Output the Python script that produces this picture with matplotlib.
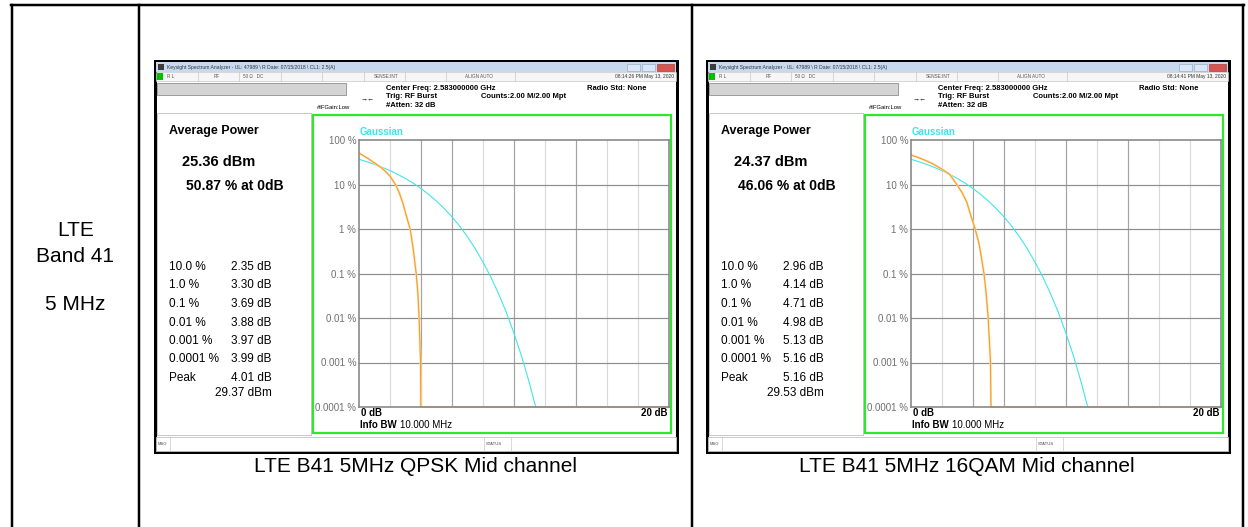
import matplotlib
matplotlib.use("Agg")
import matplotlib.pyplot as plt
from matplotlib.patches import Rectangle

plt.rcParams["font.family"] = ["Liberation Sans", "DejaVu Sans"]

W, H = 1248, 527

# ---- data ----
row_label = ["LTE", "Band 41", "5 MHz"]
captions = ["LTE B41 5MHz QPSK Mid channel", "LTE B41 5MHz 16QAM Mid channel"]
timestamps = ["08:14:26 PM May 13, 2020", "08:14:41 PM May 13, 2020"]
avg_power_dbm = [25.36, 24.37]
pct_at_0db = [50.87, 46.06]
ccdf_levels = ["10.0 %", "1.0 %", "0.1 %", "0.01 %", "0.001 %", "0.0001 %"]
qpsk_stats_db = [2.35, 3.30, 3.69, 3.88, 3.97, 3.99]
qam16_stats_db = [2.96, 4.14, 4.71, 4.98, 5.13, 5.16]
peak_db = [4.01, 5.16]
peak_dbm = [29.37, 29.53]

ytick_pct = [100, 10, 1, 0.1, 0.01, 0.001, 0.0001]
ytick_labels = ["100 %", "10 %", "1 %", "0.1 %", "0.01 %", "0.001 %", "0.0001 %"]

gauss_db = [0, 0.5, 1, 1.5, 2, 2.5, 3, 3.5, 4, 4.5, 5, 5.5, 6, 6.5, 7, 7.5, 8, 8.5, 9, 9.5, 10, 10.5, 11, 11.4]
gauss_pct = [36.8, 32.6, 28.4, 24.3, 20.5, 16.9, 13.6, 10.7, 8.1, 5.97, 4.23, 2.88, 1.87, 1.15, 0.667,
             0.362, 0.18, 0.0843, 0.0355, 0.0135, 0.0045, 0.00134, 0.00034, 0.0001]

qpsk_db = [0, 0.5, 1.0, 1.5, 2.0, 2.35, 2.6, 2.85, 3.05, 3.30, 3.5, 3.69, 3.8, 3.88, 3.97, 3.99]
qpsk_pct = [51, 40, 30.5, 23, 15.5, 10, 6.5, 3.6, 2.0, 1.0, 0.35, 0.1, 0.035, 0.01, 0.001, 0.0001]

qam16_db = [0, 0.5, 1.0, 1.5, 2.0, 2.5, 2.96, 3.3, 3.6, 3.9, 4.14, 4.4, 4.71, 4.85, 4.98, 5.13, 5.16]
qam16_pct = [46, 40, 34, 28, 22, 16.9, 10, 6.5, 4.0, 1.8, 1.0, 0.45, 0.1, 0.035, 0.01, 0.001, 0.0001]

curves = [(qpsk_db, qpsk_pct), (qam16_db, qam16_pct)]
stats = [qpsk_stats_db, qam16_stats_db]

fig = plt.figure(figsize=(W / 100, H / 100), dpi=100)
cv = fig.add_axes([0, 0, 1, 1])
cv.set_xlim(0, W)
cv.set_ylim(H, 0)
cv.axis("off")

PX = 0.72  # points per pixel


def rect(x0, y0, x1, y1, fc="none", ec="none", lw=1.0, z=1):
    cv.add_patch(Rectangle((x0, y0), x1 - x0, y1 - y0, facecolor=fc, edgecolor=ec,
                           linewidth=lw * PX, zorder=z))


def txt(x, y, s, size, **kw):
    kw.setdefault("va", "center")
    cv.text(x, y, s, fontsize=size, zorder=5, **kw)


# table grid
cv.plot([11, 1244], [5, 5], color="black", lw=2.5 * PX)
for x in [12, 139, 692, 1243]:
    cv.plot([x, x], [5, H], color="black", lw=2.5 * PX)

txt(75.5, 231, row_label[0], 15, ha="center")
txt(75.5, 256, row_label[1], 15, ha="center")
txt(75.5, 304, row_label[2], 15, ha="center")


def draw_screen(i):
    ox = 552 * i
    # window frame
    rect(155 + ox, 61, 677 + ox, 452, fc="white", ec="black", lw=3)
    # title bar
    rect(156 + ox, 62, 676 + ox, 72, fc="#c6d9ef")
    rect(158 + ox, 63.5, 164 + ox, 70, fc="#3b3b3b")
    txt(167 + ox, 67, "Keysight Spectrum Analyzer - UL: 47989 \\ R Date: 07/15/2018 \\ CL1: 2.5(A)",
        3.6, color="#333333")
    rect(627 + ox, 63.5, 640 + ox, 70.5, fc="#dbe7f6", ec="#8fa6c4", lw=0.6)
    rect(642 + ox, 63.5, 655 + ox, 70.5, fc="#dbe7f6", ec="#8fa6c4", lw=0.6)
    rect(657 + ox, 63.5, 674 + ox, 70.5, fc="#d9534f", ec="#a33", lw=0.6)
    # status row
    rect(156 + ox, 72, 676 + ox, 81, fc="#f6f6f6", ec="#c0c0c0", lw=0.6)
    rect(157 + ox, 73, 163 + ox, 80, fc="#00c000")
    for sx in [198, 239, 281, 322, 364, 405, 446, 515]:
        cv.plot([sx + ox, sx + ox], [72, 81], color="#c0c0c0", lw=0.6 * PX)
    for sx, s in [(167, "R L"), (214, "RF"), (243, "50 \u03a9   DC"), (374, "SENSE:INT"), (465, "ALIGN AUTO")]:
        txt(sx + ox, 76.5, s, 3.3, color="#555555")
    txt(674 + ox, 76.5, timestamps[i], 3.5, color="#333333", ha="right")
    # grey entry box
    rect(157 + ox, 83, 346 + ox, 95, fc="#d4d4d4", ec="#8a8a8a", lw=0.8)
    # header settings
    txt(386 + ox, 88, "Center Freq: 2.583000000 GHz", 5.5, weight="bold")
    txt(386 + ox, 97, "Trig: RF Burst", 5.5, weight="bold")
    txt(386 + ox, 105.5, "#Atten: 32 dB", 5.5, weight="bold")
    txt(481 + ox, 97, "Counts:2.00 M/2.00 Mpt", 5.5, weight="bold")
    txt(587 + ox, 88, "Radio Std: None", 5.5, weight="bold")
    txt(317 + ox, 107.5, "#IFGain:Low", 4.2)
    txt(368 + ox, 99, "\u2192\u2190", 5, ha="center")
    # left results panel
    rect(157 + ox, 113, 311 + ox, 435, fc="white", ec="#c8c8c8", lw=1)
    txt(169 + ox, 131, "Average Power", 9, weight="bold")
    txt(182 + ox, 162, f"{avg_power_dbm[i]:.2f} dBm", 10.5, weight="bold")
    txt(186 + ox, 186, f"{pct_at_0db[i]:.2f} % at 0dB", 10, weight="bold")
    for k, (lab, v) in enumerate(zip(ccdf_levels, stats[i])):
        y = 267 + 18.5 * k
        txt(169 + ox, y, lab, 8.5)
        txt(231 + ox, y, f"{v:.2f} dB", 8.5)
    txt(169 + ox, 378, "Peak", 8.5)
    txt(231 + ox, 378, f"{peak_db[i]:.2f} dB", 8.5)
    txt(215 + ox, 393, f"{peak_dbm[i]:.2f} dBm", 8.5)
    # green trace window
    rect(313 + ox, 115, 671 + ox, 433, fc="white", ec="#2ee82e", lw=2.2, z=2)
    # bottom status bar
    rect(156 + ox, 437, 676 + ox, 451, fc="white", ec="#c0c0c0", lw=0.8)
    for sx in [170, 484, 511]:
        cv.plot([sx + ox, sx + ox], [437, 451], color="#c0c0c0", lw=0.6 * PX)
    txt(158 + ox, 444, "MSG", 3, color="#444444")
    txt(486 + ox, 444, "STATUS", 3, color="#444444")
    # caption
    txt(415 + ox, 466, captions[i], 15, ha="center")

    # CCDF plot
    ax = fig.add_axes([(359 + ox) / W, (H - 407) / H, 310 / W, 267 / H], zorder=3)
    ax.set_yscale("log")
    ax.set_xlim(0, 20)
    ax.set_ylim(1e-4, 100)
    ax.set_xticks([])
    ax.minorticks_off()
    ax.set_yticks(ytick_pct)
    ax.set_yticklabels(ytick_labels)
    ax.tick_params(axis="y", length=0, pad=2, labelsize=7, labelcolor="#707070")
    for sp in ax.spines.values():
        sp.set_color("#858585")
        sp.set_linewidth(1.6 * PX)
    for k in range(1, 10):
        c = "#a4a4a4" if k in (2, 3, 5, 7) else "#dadada"
        ax.axvline(2 * k, color=c, lw=1.2 * PX, zorder=0)
    for v in ytick_pct[1:-1]:
        ax.axhline(v, color="#8e8e8e", lw=1.2 * PX, zorder=0)
    ax.plot(gauss_db, gauss_pct, color="#40e6ea", lw=0.8, zorder=2)
    dbs, pcts = curves[i]
    ax.plot(dbs, pcts, color="#ffdcaa", lw=1.6, zorder=2)
    ax.plot(dbs, pcts, color="#f29b1e", lw=0.7, zorder=2)
    ax.plot([peak_db[i], 20], [1e-4, 1e-4], color="#ffc880", lw=1.5, zorder=1, clip_on=False)
    ax.text(0.003, 1.03, "Gaussian", transform=ax.transAxes, color="#3ee3ea",
            fontsize=7, weight="bold", va="center")
    ax.text(0.006, -0.005, "0 dB", transform=ax.transAxes, fontsize=7, weight="bold", va="top")
    ax.text(0.995, -0.005, "20 dB", transform=ax.transAxes, fontsize=7, weight="bold",
            va="top", ha="right")
    bw = ax.text(0.003, -0.068, "Info BW", transform=ax.transAxes, fontsize=7,
                 weight="bold", va="center")
    ax.annotate("10.000 MHz", xy=(1, 0.5), xycoords=bw, xytext=(2.5, 0),
                textcoords="offset points", fontsize=7, va="center")


draw_screen(0)
draw_screen(1)

fig.savefig("out.png", dpi=100)
